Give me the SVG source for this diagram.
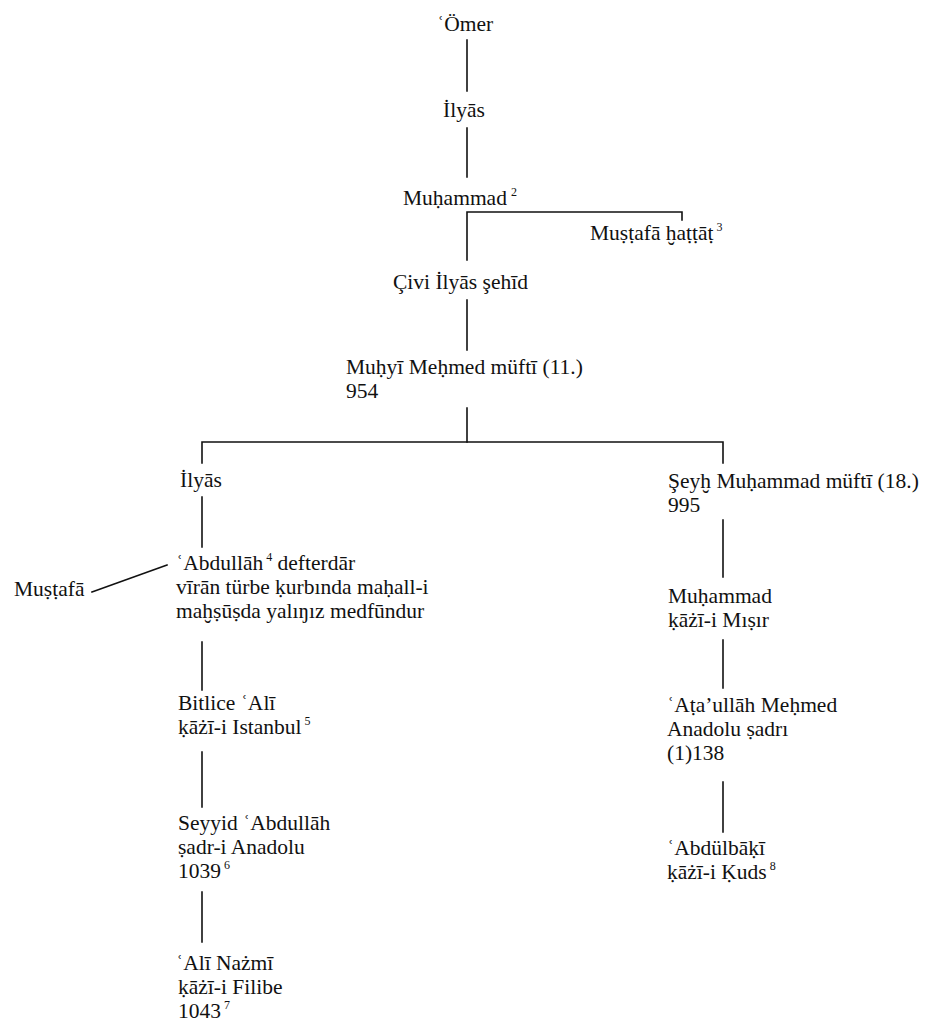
<svg xmlns="http://www.w3.org/2000/svg" width="933" height="1027" viewBox="0 0 933 1027">
  <style>
    text { font-family: "Liberation Serif", "DejaVu Serif", serif; font-size: 21.5px; fill: #111; }
    .sup { font-size: 12px; }
    .link { stroke: #111; stroke-width: 1.6; fill: none; stroke-linecap: square; }
  </style>
  <rect width="933" height="1027" fill="#fff"/>

  <!-- lines of descent -->
  <g id="connectors">
    <path class="link" d="M467 40V91"/>
    <path class="link" d="M467 128V177"/>
    <path class="link" d="M467 212V260M467 212H682V220"/>
    <path class="link" d="M467 300V350"/>
    <path class="link" d="M467 408V442"/>
    <path class="link" d="M202 463V442H723V463"/>
    <path class="link" d="M202 497V547"/>
    <path class="link" d="M92 592L167 565"/>
    <path class="link" d="M202 642V690"/>
    <path class="link" d="M202 752V807"/>
    <path class="link" d="M202 892V942"/>
    <path class="link" d="M723 520V577"/>
    <path class="link" d="M723 640V688"/>
    <path class="link" d="M723 782V832"/>
  </g>

  <!-- main line -->
  <g id="omer"><text x="437" y="31">ʿÖmer</text></g>
  <g id="ilyas-1"><text x="443" y="117">İlyās</text></g>
  <g id="muhammad-1"><text x="403" y="205">Muḥammad<tspan class="sup" dx="4" dy="-9">2</tspan></text></g>
  <g id="mustafa-hattat"><text x="590" y="240">Muṣṭafā ḫaṭṭāṭ<tspan class="sup" dx="3" dy="-9">3</tspan></text></g>
  <g id="civi-ilyas"><text x="393" y="289">Çivi İlyās şehīd</text></g>
  <g id="muhyi-mehmed">
    <text x="346" y="374">Muḥyī Meḥmed müftī (11.)</text>
    <text x="346" y="398">954</text>
  </g>

  <!-- left branch -->
  <g id="ilyas-2"><text x="180" y="487">İlyās</text></g>
  <g id="abdullah-defterdar">
    <text x="176" y="570">ʿAbdullāh<tspan class="sup" dx="3" dy="-9">4</tspan><tspan dy="9"> defterdār</tspan></text>
    <text x="176" y="594">vīrān türbe ḳurbında maḥall-i</text>
    <text x="176" y="618">maḫṣūṣda yalıŋız medfūndur</text>
  </g>
  <g id="mustafa"><text x="14" y="596">Muṣṭafā</text></g>
  <g id="bitlice-ali">
    <text x="178" y="710">Bitlice ʿAlī</text>
    <text x="178" y="734">ḳāżī-i Istanbul<tspan class="sup" dx="3" dy="-9">5</tspan></text>
  </g>
  <g id="seyyid-abdullah">
    <text x="178" y="830">Seyyid ʿAbdullāh</text>
    <text x="178" y="854">ṣadr-i Anadolu</text>
    <text x="178" y="878">1039<tspan class="sup" dx="3" dy="-9">6</tspan></text>
  </g>
  <g id="ali-nazmi">
    <text x="176" y="970">ʿAlī Nażmī</text>
    <text x="178" y="994">ḳāżī-i Filibe</text>
    <text x="178" y="1018">1043<tspan class="sup" dx="3" dy="-9">7</tspan></text>
  </g>

  <!-- right branch -->
  <g id="seyh-muhammad">
    <text x="668" y="488">Şeyḫ Muḥammad müftī (18.)</text>
    <text x="668" y="512">995</text>
  </g>
  <g id="muhammad-misir">
    <text x="668" y="603">Muḥammad</text>
    <text x="668" y="627">ḳāżī-i Mıṣır</text>
  </g>
  <g id="ataullah-mehmed">
    <text x="667" y="712">ʿAṭa’ullāh Meḥmed</text>
    <text x="667" y="736">Anadolu ṣadrı</text>
    <text x="667" y="760">(1)138</text>
  </g>
  <g id="abdulbaki">
    <text x="667" y="855">ʿAbdülbāḳī</text>
    <text x="667" y="879">ḳāżī-i Ḳuds<tspan class="sup" dx="3" dy="-9">8</tspan></text>
  </g>
</svg>
